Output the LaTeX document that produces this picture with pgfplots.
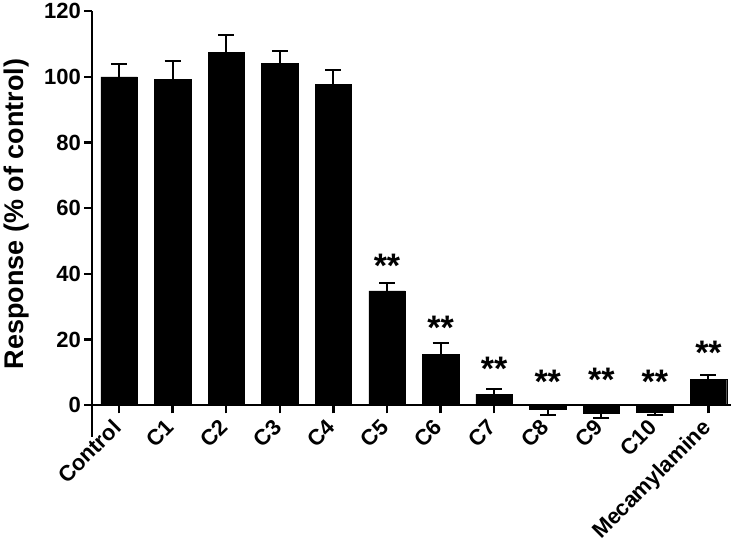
\documentclass[border=0pt]{standalone}
\usepackage{fontspec}
\setmainfont{Liberation Sans}
\usepackage{pgfplots}
\pgfplotsset{compat=1.18}

% positive bars: error bars drawn upwards
\pgfplotstableread{
x y e
0 100.0 3.8
1 99.2 5.5
2 107.4 5.4
3 104.0 4.0
4 97.6 4.4
5 34.8 2.3
6 15.6 3.3
7 3.4 1.5
11 7.8 1.5
}\posdata
% negative bars: error bars drawn downwards
\pgfplotstableread{
x y e
8 -1.3 1.7
9 -2.4 1.4
10 -2.1 0.9
}\negdata

\begin{document}
\begin{tikzpicture}
\begin{axis}[
  scale only axis,
  width=638.7pt, height=425.7pt,
  xmin=-0.5, xmax=11.42,
  ymin=-9.6, ymax=120,
  clip=false,
  axis x line=middle, axis y line=left,
  x axis line style={-}, y axis line style={-},
  axis line style={line width=2.4pt, black},
  hide obscured x ticks=false, hide obscured y ticks=false,
  xtick={0,1,2,3,4,5,6,7,8,9,10,11},
  xticklabels={Control,C1,C2,C3,C4,C5,C6,C7,C8,C9,C10,Mecamylamine},
  ytick={0,20,40,60,80,100,120},
  tick align=outside,
  major tick length=8pt,
  tick style={line width=2.4pt, black},
  /pgf/number format/assume math mode=true,
  tick label style={font=\fontsize{22}{22}\selectfont\bfseries},
  xticklabel style={xshift=-8pt, yshift=-3pt, rotate=45, anchor=north east, inner sep=1pt},
  ylabel={Response (\% of control)},
  ylabel style={at={(axis description cs:-0.138,0.523)}, anchor=north,
    inner sep=0pt, font=\fontsize{27}{27}\selectfont\bfseries},
]
\addplot[ybar, bar width=0.68, bar shift=0pt, fill=black, draw=black,
  error bars/.cd, y dir=plus, y explicit, error mark=|,
  error bar style={line width=2pt, black},
  error mark options={line width=2pt, mark size=8pt, black}]
  table[x=x, y=y, y error=e] {\posdata};
\addplot[ybar, bar width=0.68, bar shift=0pt, fill=black, draw=black,
  error bars/.cd, y dir=minus, y explicit, error mark=|,
  error bar style={line width=2pt, black},
  error mark options={line width=2pt, mark size=8pt, black}]
  table[x=x, y=y, y error=e] {\negdata};
% significance stars (baseline positions)
\addplot[draw=none, mark=none, nodes near coords={**},
  every node near coord/.style={anchor=base, inner sep=0pt,
    font=\fontsize{34}{34}\selectfont\bfseries}]
  coordinates {(5,39.0) (6,20.1) (7,7.6) (8,3.7) (9,4.2) (10,3.7) (11,12.3)};
% page margins as in the reference
\path ([shift={(-92.3pt,10.9pt)}]rel axis cs:0,1) rectangle ([shift={(6pt,-109pt)}]rel axis cs:1,0);
\end{axis}
\end{tikzpicture}
\end{document}
